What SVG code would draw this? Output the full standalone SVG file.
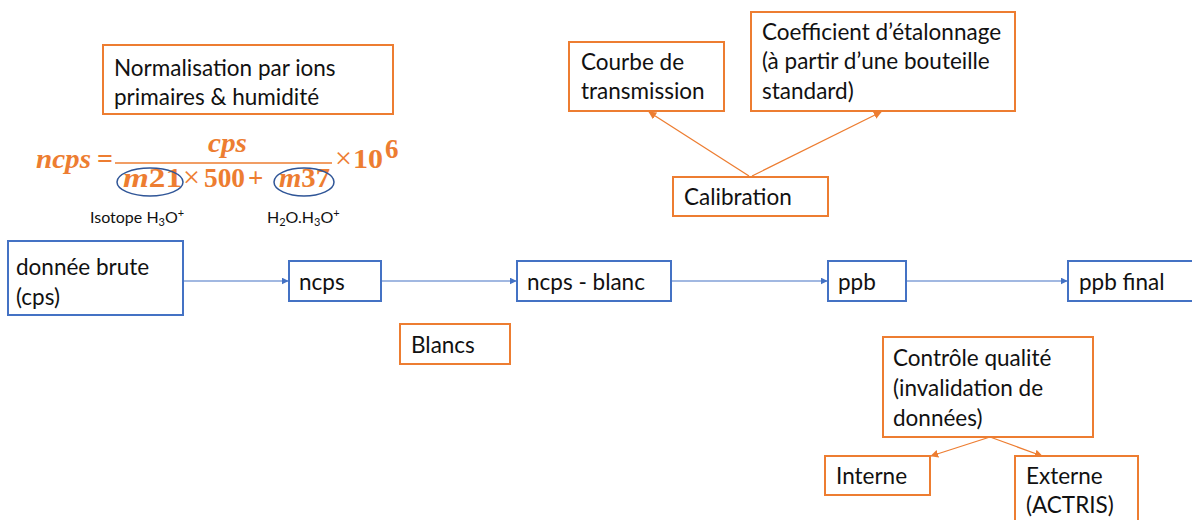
<svg xmlns="http://www.w3.org/2000/svg" width="1192" height="520" viewBox="0 0 1192 520">
<defs>
<style>
.t{font-family:Lato,"Liberation Sans",sans-serif;font-size:22.5px;fill:#111}
.s{font-family:Lato,"Liberation Sans",sans-serif;font-size:16px;fill:#111}
.ob{fill:#fff;stroke:#ED7D31;stroke-width:2}
.bb{fill:#fff;stroke:#4472C4;stroke-width:2}
.bl{stroke:#4472C4;stroke-width:1.2;fill:none}
.ol{stroke:#ED7D31;stroke-width:1.2;fill:none}
.f{font-family:"Liberation Serif",serif;font-weight:bold;font-size:27px;fill:#ED7D31}
.x{font-family:"Liberation Serif",serif;font-size:30px;fill:#ED7D31}
.i{font-style:italic}
</style>
<marker id="ab" viewBox="0 0 10 10" refX="9" refY="5" markerWidth="7" markerHeight="7" orient="auto" markerUnits="userSpaceOnUse"><path d="M0,0 L10,5 L0,10 z" fill="#4472C4"/></marker>
<marker id="ao" viewBox="0 0 10 10" refX="9" refY="5" markerWidth="8" markerHeight="8" orient="auto" markerUnits="userSpaceOnUse"><path d="M0,0 L10,5 L0,10 z" fill="#ED7D31"/></marker>
</defs>
<rect width="1192" height="520" fill="#fff"/>

<g id="connectors">
<line class="bl" x1="183" y1="281" x2="288" y2="281" marker-end="url(#ab)"/>
<line class="bl" x1="381" y1="281" x2="516" y2="281" marker-end="url(#ab)"/>
<line class="bl" x1="671" y1="281" x2="827" y2="281" marker-end="url(#ab)"/>
<line class="bl" x1="906" y1="281" x2="1067" y2="281" marker-end="url(#ab)"/>
<line class="ol" x1="749" y1="176" x2="649" y2="112" marker-end="url(#ao)"/>
<line class="ol" x1="752" y1="176" x2="881" y2="112" marker-end="url(#ao)"/>
<line class="ol" x1="990" y1="437" x2="931" y2="456" marker-end="url(#ao)"/>
<line class="ol" x1="990" y1="437" x2="1042" y2="456" marker-end="url(#ao)"/>
</g>

<g id="normalisation">
<rect class="ob" x="103" y="45" width="290" height="69"/>
<text class="t" x="114" y="76">Normalisation par ions</text>
<text class="t" x="114" y="105">primaires &amp; humidité</text>
</g>

<g id="formula">
<text class="f i" x="36" y="168" textLength="55" lengthAdjust="spacingAndGlyphs">ncps</text>
<text class="f" x="97" y="168" textLength="16" lengthAdjust="spacingAndGlyphs">=</text>
<text class="f i" x="208" y="152" textLength="39" lengthAdjust="spacingAndGlyphs">cps</text>
<line x1="115" y1="163" x2="332" y2="163" stroke="#ED7D31" stroke-width="1.5"/>
<text class="f" x="123" y="187" textLength="59" lengthAdjust="spacingAndGlyphs"><tspan class="i">m</tspan>21</text>
<text class="x" x="183" y="187">×</text>
<text class="f" x="204" y="187" textLength="41" lengthAdjust="spacingAndGlyphs">500</text>
<text class="f" x="248" y="187">+</text>
<text class="f" x="279" y="187" textLength="51" lengthAdjust="spacingAndGlyphs"><tspan class="i">m</tspan>37</text>
<text class="x" x="335" y="168">×</text>
<text class="f" x="353" y="168" textLength="30" lengthAdjust="spacingAndGlyphs">10</text>
<text class="f" x="385" y="158" font-size="17">6</text>
<ellipse cx="150" cy="182" rx="33" ry="14" fill="none" stroke="#2F5597" stroke-width="1.5"/>
<ellipse cx="304" cy="182" rx="30" ry="14" fill="none" stroke="#2F5597" stroke-width="1.5"/>
<text class="s" x="90" y="223">Isotope H<tspan font-size="11" dy="3">3</tspan><tspan dy="-3">O</tspan><tspan font-size="11" dy="-6">+</tspan></text>
<text class="s" x="267" y="223">H<tspan font-size="11" dy="3">2</tspan><tspan dy="-3">O.H</tspan><tspan font-size="11" dy="3">3</tspan><tspan dy="-3">O</tspan><tspan font-size="11" dy="-6">+</tspan></text>
</g>

<g id="courbe">
<rect class="ob" x="569" y="42" width="155" height="69"/>
<text class="t" x="581" y="70">Courbe de</text>
<text class="t" x="581" y="99">transmission</text>
</g>

<g id="coefficient">
<rect class="ob" x="751" y="12" width="264" height="99"/>
<text class="t" x="762" y="40">Coefficient d’étalonnage</text>
<text class="t" x="762" y="69">(à partir d’une bouteille</text>
<text class="t" x="762" y="99">standard)</text>
</g>

<g id="calibration">
<rect class="ob" x="673" y="177" width="155" height="39"/>
<text class="t" x="684" y="205">Calibration</text>
</g>

<g id="donnee">
<rect class="bb" x="8" y="241" width="175" height="74"/>
<text class="t" x="16" y="275">donnée brute</text>
<text class="t" x="16" y="305">(cps)</text>
</g>

<g id="ncps">
<rect class="bb" x="289" y="261" width="92" height="40"/>
<text class="t" x="299" y="290">ncps</text>
</g>

<g id="ncpsblanc">
<rect class="bb" x="517" y="261" width="154" height="40"/>
<text class="t" x="527" y="290">ncps - blanc</text>
</g>

<g id="ppb">
<rect class="bb" x="828" y="261" width="78" height="40"/>
<text class="t" x="838" y="290">ppb</text>
</g>

<g id="ppbfinal">
<rect class="bb" x="1068" y="261" width="130" height="40"/>
<text class="t" x="1079" y="290">ppb final</text>
</g>

<g id="blancs">
<rect class="ob" x="400" y="324" width="110" height="40"/>
<text class="t" x="411" y="353">Blancs</text>
</g>

<g id="controle">
<rect class="ob" x="883" y="337" width="210" height="100"/>
<text class="t" x="893" y="366">Contrôle qualité</text>
<text class="t" x="893" y="396">(invalidation de</text>
<text class="t" x="893" y="426">données)</text>
</g>

<g id="interne">
<rect class="ob" x="825" y="456" width="105" height="39"/>
<text class="t" x="836" y="484">Interne</text>
</g>

<g id="externe">
<rect class="ob" x="1015" y="456" width="123" height="80"/>
<text class="t" x="1026" y="484">Externe</text>
<text class="t" x="1026" y="513">(ACTRIS)</text>
</g>
</svg>
